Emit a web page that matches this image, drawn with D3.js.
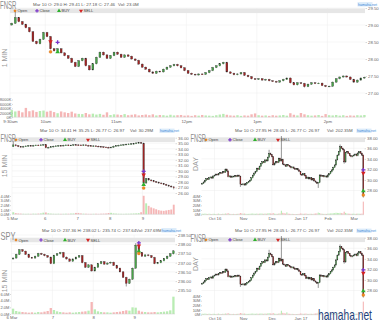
<!DOCTYPE html>
<html>
<head>
<meta charset="utf-8">
<script src="https://cdn.jsdelivr.net/npm/d3@7"></script>
<style>
body { margin: 0; background: #fff; }
svg text { font-family: "Liberation Sans", Arial, sans-serif; }
</style>
</head>
<body>
<svg id="chart" width="380" height="326"></svg>
<script>
// ======================================
// Data
// ======================================

// FNSR 1 MIN (3-minute steps from 9:30am)
var minCloses = [
   29.05, 29.22, 29.10, 29.02, 28.92, 28.80, 28.52, 28.45, 28.58, 28.78,
   28.66, 28.30, 28.24, 28.30, 28.18, 28.10, 28.02, 27.90, 27.78, 27.95,
   28.02, 27.80, 27.68, 27.86, 28.05, 28.20, 28.12, 28.02, 28.10, 28.20,
   28.14, 28.05, 28.12, 28.08, 28.00, 27.96, 27.85, 27.76, 27.70, 27.62,
   27.58, 27.64, 27.62, 27.70, 27.76, 27.80, 27.84, 27.80, 27.74, 27.66,
   27.58, 27.55, 27.53, 27.56, 27.55, 27.60, 27.66, 27.75, 27.80, 27.86,
   27.90, 27.62, 27.58, 27.54, 27.56, 27.60, 27.52, 27.48, 27.42, 27.40,
   27.42, 27.38, 27.40, 27.36, 27.34, 27.32, 27.36, 27.40, 27.44, 27.30,
   27.24, 27.30, 27.28, 27.19, 27.26, 27.30, 27.28, 27.29, 27.22, 27.19,
   27.20, 27.32, 27.42, 27.47, 27.50, 27.47, 27.40, 27.32, 27.38, 27.44,
   27.46
];
var minVolumes = [
   3200, 2600, 2900, 2200, 4200, 2700, 3100, 2400, 2800, 3000,
   2500, 2900, 2300, 1800, 2600, 2200, 1900, 2500, 1700, 1500,
   1400, 1900, 1300, 1600, 1200, 1500, 1100, 2200, 1000, 1300,
   1200, 1000, 1400, 900, 1100, 1300, 800, 1000, 1200, 900,
   1300, 800, 1000, 900, 700, 1100, 800, 900, 1000, 700,
   800, 600, 900, 700, 1000, 800, 700, 600, 900, 1200,
   1500, 1100, 800, 700, 900, 600, 800, 700, 1300, 1700,
   900, 700, 800, 600, 900, 700, 800, 1000, 700, 1800,
   1100, 800, 1900, 1300, 900, 700, 800, 1000, 600, 1400,
   900, 800, 1000, 700, 900, 600, 800, 700, 900, 800,
   1000
];
var minHighs = [[1, 29.41]];
var minLows = [[83, 27.18]];
var minTimeTicks = [0, 30, 90, 150, 210, 270];
var minTimeLabels = ['9:30am', '10am', '11am', '12pm', '1pm', '2pm'];
var minPriceTicks = [27.0, 27.5, 28.0, 28.5, 29.0, 29.5];
var minVolTicks = [0, 2000, 4000, 6000, 8000];
var minMarkers = [['sell', 11, 28.51], ['close', 13, 28.49], ['open', 11, 28.21], ['buy', 13, 28.21]];

// FNSR 15 MIN (half-hour steps, 13 per day)
var q15Closes = [
   34.70, 34.55, 34.40, 34.35, 34.42, 34.50, 34.58, 34.52, 34.60, 34.66, 34.62, 34.70, 34.75,
   34.20, 34.25, 34.35, 34.45, 34.52, 34.58, 34.55, 34.62, 34.68, 34.60, 34.65, 34.72, 34.70,
   34.68, 34.62, 34.70, 34.60, 34.55, 34.50, 34.52, 34.45, 34.40, 34.35, 34.30, 34.25, 34.20,
   34.28, 34.45, 34.55, 34.62, 34.70, 34.75, 34.82, 34.86, 34.90, 34.95, 35.05, 35.12, 35.00,
   27.80, 28.60, 28.35, 28.20, 28.05, 27.95, 27.80, 27.70, 27.55, 27.40, 27.25, 27.10, 26.97
];
var q15Volumes = [
   0.45, 0.25, 0.18, 0.15, 0.12, 0.10, 0.12, 0.10, 0.14, 0.12, 0.15, 0.20, 0.35,
   0.40, 0.22, 0.15, 0.12, 0.10, 0.12, 0.10, 0.11, 0.13, 0.12, 0.16, 0.18, 0.30,
   0.30, 0.18, 0.14, 0.12, 0.10, 0.09, 0.11, 0.12, 0.10, 0.13, 0.15, 0.17, 0.28,
   0.32, 0.20, 0.15, 0.12, 0.11, 0.10, 0.12, 0.13, 0.15, 0.18, 0.20, 0.25, 0.45,
   4.05, 2.40, 1.85, 1.50, 1.30, 1.10, 0.90, 0.80, 0.75, 0.85, 0.95, 1.05, 2.10
];
var q15DayTicks = [0, 13, 26, 39, 52];
var q15DayLabels = ['5 Mar', '6', '7', '8', '9'];
var q15PriceTicks = [26, 27, 28, 29, 30, 31, 32, 33, 34, 35, 36];
var q15VolTicks = [0, 1, 2, 3, 4];
var q15Markers = [['close', 52, 29.9], ['sell', 52, 29.3], ['buy', 52, 27.5], ['open', 52, 26.9]];

// FNSR DAY
var dayCloses = [
   29.36, 29.60, 29.90, 30.25, 30.10, 30.40, 30.55, 30.35, 30.75, 30.90,
   31.10, 30.95, 31.20, 31.35, 31.30, 31.55, 31.45, 32.05, 31.70, 30.60,
   30.75, 30.50, 30.70, 30.60, 30.80, 30.65, 30.90, 30.70, 29.20, 29.10,
   29.25, 29.04, 29.30, 29.50, 29.70, 29.95, 30.40, 30.90, 31.30, 31.60,
   32.20, 32.00, 32.60, 33.10, 33.45, 33.30, 33.80, 33.60, 34.30, 35.05,
   34.80, 34.40, 32.85, 33.20, 33.45, 33.30, 34.10, 33.60, 33.90, 33.00,
   32.85, 32.60, 32.90, 32.70, 32.50, 32.30, 32.45, 32.20, 32.00, 32.15,
   31.90, 31.60, 31.00, 30.94, 31.20, 30.80, 30.30, 30.50, 30.20, 30.40,
   30.00, 30.25, 29.80, 29.60, 29.36, 29.50, 30.94, 30.70, 30.80, 30.60,
   30.75, 30.55, 30.94, 31.20, 31.56, 31.90, 32.40, 32.83, 33.80, 34.70,
   35.35, 36.30, 36.00, 35.70, 33.40, 35.20, 35.35, 35.00, 34.60, 34.40,
   34.55, 34.72, 34.90, 34.60, 35.10, 35.35, 35.05, 34.70, 26.97
];
var dayVolumes = [
   2.1, 1.8, 2.4, 1.9, 1.6, 2.2, 1.7, 1.5, 2.0, 1.8,
   1.6, 1.9, 2.3, 1.7, 1.5, 2.0, 1.8, 2.6, 2.2, 3.4,
   2.0, 1.7, 1.6, 1.8, 1.5, 1.7, 1.9, 2.1, 3.6, 2.8,
   2.2, 2.4, 1.9, 1.7, 1.8, 2.0, 2.3, 2.5, 2.1, 1.9,
   2.4, 2.0, 2.2, 2.6, 2.3, 1.9, 2.5, 2.1, 2.8, 3.2,
   2.6, 2.4, 3.5, 2.2, 2.0, 1.9, 2.4, 2.8, 8.5, 4.0,
   3.2, 2.4, 5.0, 2.2, 1.9, 1.7, 1.8, 1.6, 1.5, 1.4,
   1.6, 1.8, 2.6, 2.3, 1.9, 2.1, 2.4, 1.8, 1.7, 2.0,
   1.9, 1.7, 2.2, 2.5, 2.8, 4.5, 3.6, 2.4, 2.0, 1.8,
   1.9, 1.7, 2.2, 2.4, 2.6, 2.9, 3.1, 3.4, 4.2, 3.8,
   3.6, 4.0, 3.2, 2.9, 6.5, 3.8, 2.6, 2.3, 2.1, 1.9,
   2.0, 2.2, 1.8, 2.0, 2.3, 2.1, 1.9, 2.4, 28.0
];
var dayHighs = [[49, 35.6], [58, 38.2], [101, 36.6]];
var dayLows = [[28, 28.8], [85, 28.6], [104, 33.2], [118, 26.77]];
var dayMonthTicks = [9, 30, 51, 72, 92, 111];
var dayMonthLabels = ['Oct 16', 'Nov', 'Dec', 'Jan 17', 'Feb', 'Mar'];
var dayPriceTicks = [28, 30, 32, 34, 36, 38];
var dayVolTicks = [0, 10, 20, 30, 40];
var dayMarkers = [['close', 118, 31.9], ['sell', 118, 31.3], ['buy', 118, 27.9], ['open', 118, 27.15]];

// SPY 15 MIN (half-hour steps, 13 per day)
var spyCloses = [
   237.25, 237.45, 237.70, 237.62, 237.45, 237.28, 237.25, 237.35, 237.50, 237.45, 237.38, 237.30, 236.95,
   237.40, 237.48, 237.55, 237.30, 237.20, 237.08, 237.20, 237.30, 237.38, 237.00, 236.75, 236.88, 236.55,
   236.75, 236.95, 237.05, 236.92, 236.98, 237.02, 236.85, 236.70, 236.50, 236.20, 235.88, 236.10, 236.70,
   237.95, 237.55, 237.35, 237.42, 237.38, 237.28, 236.95, 237.00, 237.10, 237.22, 237.35, 237.48, 237.64
];
var spyVolumes = [
   1.6, 0.9, 0.7, 0.6, 0.5, 0.4, 0.5, 0.4, 0.6, 0.5, 0.7, 0.9, 1.8,
   1.2, 0.8, 0.6, 0.5, 0.4, 0.5, 0.4, 0.5, 0.6, 0.7, 0.8, 1.0, 3.6,
   1.4, 0.8, 0.6, 0.5, 0.5, 0.4, 0.5, 0.6, 0.7, 0.9, 1.1, 1.0, 2.0,
   1.9, 1.0, 0.7, 0.6, 0.5, 0.5, 0.6, 0.5, 0.6, 0.7, 0.8, 1.1, 5.2
];
var spyDayTicks = [0, 13, 26, 39];
var spyDayLabels = ['6 Mar', '7', '8', '9'];
var spyPriceTicks = [235.5, 236.0, 236.5, 237.0, 237.5, 238.0, 238.5];
var spyVolTicks = [0, 2, 4, 6];
var spyMarkers = [['close', 40, 238.07], ['sell', 40, 237.92], ['buy', 40, 237.62], ['open', 40, 237.5]];

var legendNames = ['Open', 'Close', 'BUY', 'SELL'];
var legendTypes = ['open', 'close', 'buy', 'sell'];

// ======================================
// Colors
// ======================================
var upColor = '#47a447';
var downColor = '#a52222';
var upVol = '#b9ecb3';
var downVol = '#f5b6b6';
var gridColor = '#ececec';

var svg = d3.select('#chart');

// ======================================
// Trade marker glyphs
// ======================================
function marker(g, type, x, y, size) {
   var s = size || 9;
   if (type === 'open') {
      g.append('circle').attr('cx', x).attr('cy', y).attr('r', s / 6)
         .attr('fill', '#f28c1e').attr('stroke', '#c8651a').attr('stroke-width', 0.3);
   } else if (type === 'close') {
      g.append('path').attr('d', d3.symbol().type(d3.symbolCross).size(s)())
         .attr('transform', 'translate(' + x + ',' + y + ')')
         .attr('fill', '#7a35c9');
   } else if (type === 'buy') {
      g.append('path').attr('d', d3.symbol().type(d3.symbolTriangle).size(s)())
         .attr('transform', 'translate(' + x + ',' + y + ')')
         .attr('fill', '#2fb12f');
   } else {
      g.append('path').attr('d', d3.symbol().type(d3.symbolTriangle).size(s)())
         .attr('transform', 'translate(' + x + ',' + y + ') rotate(180)')
         .attr('fill', '#d42323');
   }
}

// narrow text: squeeze a label horizontally to a given width
function squeezed(g, str, x, y, size, width) {
   var t = g.append('text').text(str)
      .attr('font-size', size)
      .attr('transform', 'translate(' + x + ',' + y + ')');
   var w = t.node().getComputedTextLength();
   t.attr('transform', 'translate(' + x + ',' + y + ') scale(' + (width / w) + ',1)');
   return t;
}

// ======================================
// One chart panel
// ======================================
function drawPanel(p) {
   var g = svg.append('g').attr('transform', 'translate(0,' + (p.dy || 0) + ')');

   var x = d3.scaleLinear().domain(p.xDomain).range([p.left, p.right]);
   var y = d3.scaleLinear().domain(p.yDomain).range(p.yRange);
   var v = d3.scaleLinear().domain(p.vDomain).range(p.vRange);
   var bx = function(i){ return x(p.barPos(i)); };

   var bars = p.closes.map(function(c, i){
      var o = i === 0 ? p.firstOpen : p.closes[i - 1];
      return { i: i, o: o, c: c, h: Math.max(o, c), l: Math.min(o, c), v: p.volumes[i] };
   });
   p.highs.forEach(function(d){ bars[d[0]].h = d[1]; });
   p.lows.forEach(function(d){ bars[d[0]].l = d[1]; });

   // grid
   g.append('g').selectAll('line')
      .data(p.yTicks).enter().append('line')
      .attr('x1', p.left).attr('x2', p.right)
      .attr('y1', function(d){ return y(d); }).attr('y2', function(d){ return y(d); })
      .attr('stroke', gridColor).attr('stroke-width', 0.5);
   g.append('g').selectAll('line')
      .data(p.xTicks).enter().append('line')
      .attr('x1', function(d){ return x(d); }).attr('x2', function(d){ return x(d); })
      .attr('y1', p.plotTop).attr('y2', p.vRange[0])
      .attr('stroke', gridColor).attr('stroke-width', 0.5);

   // legend band
   g.append('rect')
      .attr('x', p.bandX[0]).attr('width', p.bandX[1] - p.bandX[0])
      .attr('y', p.legendY - 2.3).attr('height', 4.6)
      .attr('fill', '#e6e6e6');

   // volume
   g.append('g').selectAll('rect')
      .data(bars).enter().append('rect')
      .attr('x', function(d){ return bx(d.i) - p.barW / 2; })
      .attr('width', p.barW)
      .attr('y', function(d){ return v(d.v); })
      .attr('height', function(d){ return v(0) - v(d.v); })
      .attr('fill', function(d){ return d.c >= d.o ? upVol : downVol; });
   g.append('line')
      .attr('x1', p.left).attr('x2', p.right)
      .attr('y1', v(0)).attr('y2', v(0))
      .attr('stroke', '#cfcfcf').attr('stroke-width', 0.5);

   // candles
   g.append('g').selectAll('line')
      .data(bars).enter().append('line')
      .attr('x1', function(d){ return bx(d.i); }).attr('x2', function(d){ return bx(d.i); })
      .attr('y1', function(d){ return y(d.h) - 0.6; })
      .attr('y2', function(d){ return y(d.l) + 0.6; })
      .attr('stroke', '#2a2a2a').attr('stroke-width', 0.5);
   g.append('g').selectAll('rect')
      .data(bars).enter().append('rect')
      .attr('x', function(d){ return bx(d.i) - p.candleW / 2; })
      .attr('width', p.candleW)
      .attr('y', function(d){ return y(Math.max(d.o, d.c)); })
      .attr('height', function(d){ return Math.max(0.7, Math.abs(y(d.o) - y(d.c))); })
      .attr('fill', function(d){ return d.c >= d.o ? upColor : downColor; })
      .attr('stroke', '#2a2a2a').attr('stroke-width', 0.3);

   // price axis
   var ya = g.append('g')
      .attr('transform', 'translate(' + (p.right + 0.5) + ',0)')
      .call(d3.axisRight(y).tickValues(p.yTicks).tickFormat(d3.format('.2f')).tickSize(1.5).tickPadding(1));
   // volume axis
   var va = g.append('g')
      .attr('transform', 'translate(' + p.volAxisX + ',0)')
      .call(d3.axisLeft(v).tickValues(p.vTicks).tickFormat(p.vFormat).tickSize(1).tickPadding(0.6));
   // time axis
   var xa = g.append('g')
      .attr('transform', 'translate(0,' + v(0) + ')')
      .call(d3.axisBottom(x).tickValues(p.xTicks)
         .tickFormat(function(d, i){ return p.xLabels[i]; })
         .tickSize(0).tickPadding(2.3));
   [ya, va, xa].forEach(function(a){
      a.select('.domain').remove();
      a.selectAll('line').attr('stroke', '#999').attr('stroke-width', 0.4);
      a.selectAll('text').attr('font-size', 4.3).attr('fill', '#666');
   });
   va.selectAll('text').attr('font-size', 4);

   // trade markers
   p.markers.forEach(function(m){
      marker(g, m[0], bx(m[1]), y(m[2]), 9);
   });

   // legend entries
   legendTypes.forEach(function(t, k){
      marker(g, t, p.legendX[k], p.legendY, 7);
      g.append('text').text(legendNames[k])
         .attr('x', p.legendX[k] + 2.5).attr('y', p.legendY + 1.5)
         .attr('font-size', 4).attr('fill', '#444');
   });

   // title, period, info
   squeezed(g, p.title, p.titleX, p.titleY, 10.5, p.titleW).attr('fill', '#8c8c8c');
   g.append('text').text(p.period)
      .attr('transform', 'translate(' + p.periodPos[0] + ',' + p.periodPos[1] + ') rotate(-90)')
      .attr('text-anchor', 'middle')
      .attr('font-size', 7).attr('fill', '#9a9a9a');
   g.append('text').text(p.info)
      .attr('x', p.infoX).attr('y', p.infoY)
      .attr('font-size', 4.4).attr('fill', '#555');
   g.append('text').text(p.vol)
      .attr('x', p.volX).attr('y', p.infoY)
      .attr('font-size', 4.4).attr('fill', '#555');
   g.append('rect')
      .attr('x', p.tagX - 0.5).attr('y', p.infoY - 3.4)
      .attr('width', 15).attr('height', 4.4)
      .attr('fill', '#dcecfa');
   g.append('text').text('hamaha.net')
      .attr('x', p.tagX).attr('y', p.infoY)
      .attr('font-size', 3.6).attr('fill', '#3b8bd6');
}

// ======================================
// Panels
// ======================================
var kFormat = function(d){ return d + 'K'; };
var mFormat1 = function(d){ return d3.format('.1f')(d) + 'M'; };
var mFormat0 = function(d){ return d + 'M'; };

drawPanel({
   title: 'FNSR', titleX: 0, titleY: 9.3, titleW: 16.5,
   period: '1 MIN', periodPos: [7, 58],
   info: 'Mar 10 O: 29.0 H: 29.41 L: 27.18 C: 27.46', infoX: 33, infoY: 5.5,
   vol: 'Vol: 23.0M', volX: 118, tagX: 358,
   legendY: 10.8, legendX: [15, 37, 59, 81], bandX: [10, 365],
   closes: minCloses, volumes: minVolumes, firstOpen: 29.0,
   highs: minHighs, lows: minLows,
   xDomain: [0, 302], left: 10, right: 365,
   barPos: function(i){ return i * 3 + 1.5; },
   candleW: 1.9, barW: 2.4,
   yDomain: [27, 29.5], yRange: [93, 8], yTicks: minPriceTicks, plotTop: 8,
   vDomain: [0, 8000], vRange: [117.2, 99.5], vTicks: minVolTicks, vFormat: kFormat, volAxisX: 13,
   xTicks: minTimeTicks, xLabels: minTimeLabels,
   markers: minMarkers
});

drawPanel({
   title: 'FNSR', titleX: 0.5, titleY: 141.5, titleW: 15.5,
   period: '15 MIN', periodPos: [7, 166],
   info: 'Mar 10 O: 34.41 H: 35.25 L: 26.77 C: 26.97', infoX: 40, infoY: 132,
   vol: 'Vol: 30.29M', volX: 130, tagX: 160,
   legendY: 139.8, legendX: [16, 41, 65, 88], bandX: [10, 175],
   closes: q15Closes, volumes: q15Volumes, firstOpen: 34.41,
   highs: [[0, 35.25]], lows: [[64, 26.77]],
   xDomain: [0, 65], left: 12, right: 175,
   barPos: function(i){ return i + 0.5; },
   candleW: 1.5, barW: 1.9,
   yDomain: [26, 36], yRange: [193, 137.7], yTicks: q15PriceTicks, plotTop: 137.5,
   vDomain: [0, 4], vRange: [214.3, 196], vTicks: q15VolTicks, vFormat: mFormat1, volAxisX: 11,
   xTicks: q15DayTicks, xLabels: q15DayLabels,
   markers: q15Markers
});

var dayPanel = {
   title: 'FNSR', titleX: 190.5, titleY: 141.5, titleW: 15.5,
   period: 'DAY', periodPos: [198, 164],
   info: 'Mar 10 O: 27.95 H: 28.05 L: 26.77 C: 26.97', infoX: 235, infoY: 132,
   vol: 'Vol: 202.35M', volX: 327, tagX: 357,
   legendY: 139.8, legendX: [206, 230, 255, 278], bandX: [200, 365],
   closes: dayCloses, volumes: dayVolumes, firstOpen: 29.2,
   highs: dayHighs, lows: dayLows,
   xDomain: [-0.5, 118.5], left: 201.5, right: 364,
   barPos: function(i){ return i; },
   candleW: 1.0, barW: 1.1,
   yDomain: [28, 38], yRange: [190.5, 137.7], yTicks: dayPriceTicks, plotTop: 137.5,
   vDomain: [0, 40], vRange: [214.7, 196], vTicks: dayVolTicks, vFormat: mFormat0, volAxisX: 202,
   xTicks: dayMonthTicks, xLabels: dayMonthLabels,
   markers: dayMarkers
};
drawPanel(dayPanel);
drawPanel(Object.assign({}, dayPanel, { dy: 100 }));

drawPanel({
   title: 'SPY', titleX: 0.5, titleY: 239.5, titleW: 15,
   period: '15 MIN', periodPos: [7, 281],
   info: 'Mar 10 O: 237.36 H: 238.02 L: 235.74 C: 237.64', infoX: 42, infoY: 231.5,
   vol: 'Vol: 237.69M', volX: 136, tagX: 162,
   legendY: 240, legendX: [16, 41, 65, 88], bandX: [10, 175],
   closes: spyCloses, volumes: spyVolumes, firstOpen: 237.2,
   highs: [[39, 238.02]], lows: [[36, 235.74]],
   xDomain: [0, 52], left: 11.5, right: 175,
   barPos: function(i){ return i + 0.5; },
   candleW: 1.7, barW: 2.3,
   yDomain: [235.5, 238.5], yRange: [290.3, 235], yTicks: spyPriceTicks, plotTop: 235,
   vDomain: [0, 6], vRange: [314, 294], vTicks: spyVolTicks, vFormat: mFormat1, volAxisX: 11,
   xTicks: spyDayTicks, xLabels: spyDayLabels,
   markers: spyMarkers
});

// ======================================
// Watermark
// ======================================
squeezed(svg, 'hamaha.net', 318, 320, 14, 54)
   .attr('fill', '#1f3f7a')
   .attr('stroke', '#ffffff').attr('stroke-width', 1.2)
   .attr('paint-order', 'stroke');
</script>
</body>
</html>
